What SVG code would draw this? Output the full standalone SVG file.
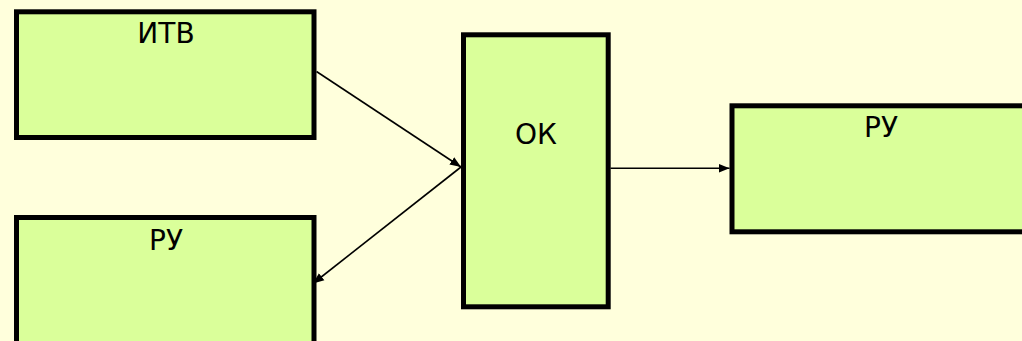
<svg xmlns="http://www.w3.org/2000/svg" width="1022" height="341" viewBox="0 0 1022 341">
<defs>
<style>
.box{fill:#daff9a;stroke:#000;stroke-width:5}
.lbl{font-family:"DejaVu Sans",sans-serif;font-size:28px;fill:#000;text-anchor:middle}
.con{stroke:#000;stroke-width:1.6;fill:none;marker-end:url(#ah)}
</style>
<marker id="ah" viewBox="0 0 10 10" refX="10" refY="5" markerWidth="11" markerHeight="11" markerUnits="userSpaceOnUse" orient="auto">
<path d="M0,1 L10,5 L0,9 z" fill="#000"/>
</marker>
</defs>
<rect width="1022" height="341" fill="#ffffdc"/>
<g id="node-itv">
<rect class="box" x="16.5" y="11.8" width="297.5" height="125.7"/>
<text class="lbl" x="166" y="43">ИТВ</text>
</g>
<g id="node-ru-left">
<rect class="box" x="16.5" y="217.5" width="297.5" height="140"/>
<text class="lbl" x="166" y="250">РУ</text>
</g>
<g id="node-ok">
<rect class="box" x="463.5" y="34.8" width="144.7" height="272"/>
<text class="lbl" x="536" y="144">ОК</text>
</g>
<g id="node-ru-right">
<rect class="box" x="732" y="105.8" width="300" height="126"/>
<text class="lbl" x="881" y="137">РУ</text>
</g>
<g id="connectors">
<line class="con" x1="316.5" y1="71.5" x2="461" y2="167"/>
<line class="con" x1="461" y1="167" x2="313" y2="283.5"/>
<line class="con" x1="610.5" y1="168.3" x2="729.5" y2="168.3"/>
</g>
</svg>
